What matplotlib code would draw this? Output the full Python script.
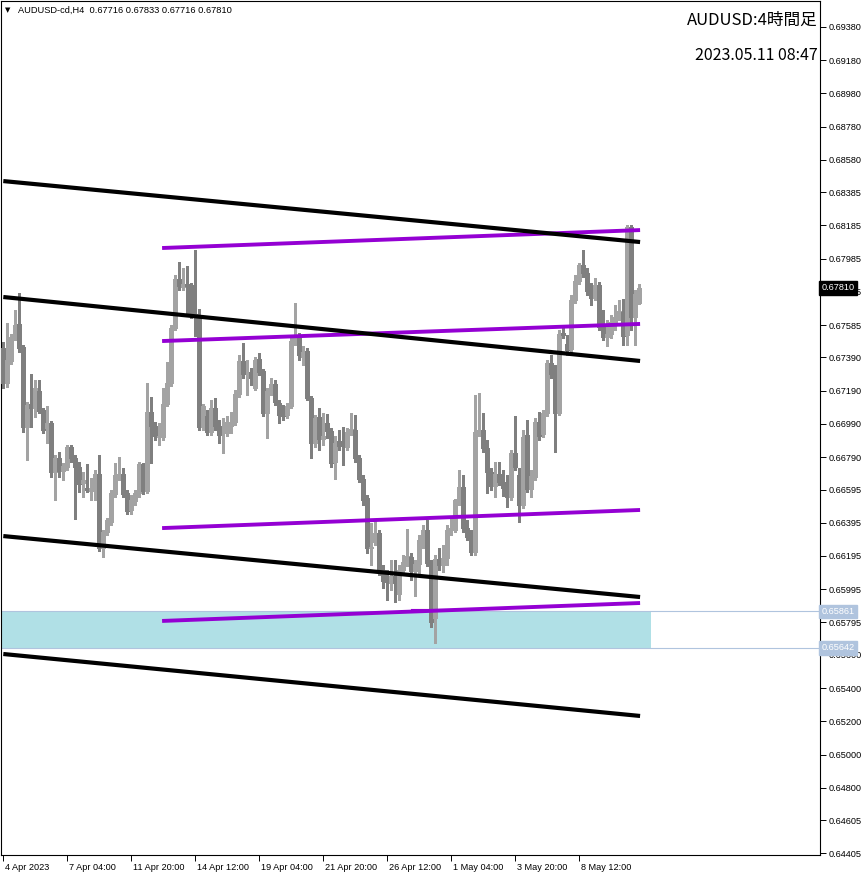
import matplotlib
matplotlib.use("Agg")
import matplotlib.pyplot as plt
from matplotlib.patches import Rectangle
import matplotlib.transforms as mtransforms

header_text = "AUDUSD-cd,H4  0.67716 0.67833 0.67716 0.67810"
title_main = "AUDUSD:4時間足"
title_time = "2023.05.11 08:47"

opens = [
    0.67447, 0.67236, 0.67369, 0.67507, 0.67592, 0.67453, 0.66971, 0.67110, 0.67086, 0.67188,
    0.67074, 0.66965, 0.66996, 0.66701, 0.66785, 0.66707, 0.66731, 0.66851, 0.66785, 0.66731,
    0.66634, 0.66604, 0.66586, 0.66604, 0.66689, 0.66243, 0.66339, 0.66400, 0.66568, 0.66670,
    0.66689, 0.66574, 0.66472, 0.66526, 0.66574, 0.66749, 0.66586, 0.67062, 0.66977, 0.66911,
    0.66911, 0.67110, 0.67236, 0.67567, 0.67862, 0.67814, 0.67832, 0.67826, 0.67652, 0.67640,
    0.66971, 0.67038, 0.66941, 0.67086, 0.66977, 0.66935, 0.66935, 0.66977, 0.67002, 0.67170,
    0.67369, 0.67303, 0.67303, 0.67206, 0.67381, 0.67309, 0.67056, 0.67182, 0.67230, 0.67116,
    0.67050, 0.67044, 0.67098, 0.67489, 0.67513, 0.67393, 0.67429, 0.67146, 0.66875, 0.67032,
    0.66899, 0.66996, 0.66947, 0.66761, 0.66887, 0.66857, 0.66851, 0.66941, 0.66953, 0.66785,
    0.66658, 0.66544, 0.66243, 0.66279, 0.66333, 0.66111, 0.66050, 0.66032, 0.66074, 0.65966,
    0.66111, 0.66159, 0.66189, 0.66105, 0.66147, 0.66279, 0.66351, 0.66153, 0.65822, 0.66177,
    0.66141, 0.66183, 0.66351, 0.66351, 0.66532, 0.66610, 0.66363, 0.66321, 0.66219, 0.66941,
    0.66953, 0.66845, 0.66701, 0.66616, 0.66689, 0.66640, 0.66604, 0.66550, 0.66815, 0.66683,
    0.66502, 0.66923, 0.66598, 0.66670, 0.67002, 0.66929, 0.67056, 0.67357, 0.67291, 0.67056,
    0.67537, 0.67471, 0.67441, 0.67736, 0.67850, 0.67947, 0.67899, 0.67820, 0.67748, 0.67826,
    0.67573, 0.67513, 0.67531, 0.67604, 0.67634, 0.67664, 0.67525, 0.68175, 0.67634, 0.67716,
]
highs = [
    0.67483, 0.67598, 0.67531, 0.67676, 0.67778, 0.67465, 0.67122, 0.67291, 0.67254, 0.67254,
    0.67086, 0.67098, 0.67008, 0.66803, 0.66821, 0.66755, 0.66863, 0.66863, 0.66803, 0.66761,
    0.66701, 0.66749, 0.66664, 0.66713, 0.66803, 0.66351, 0.66424, 0.66592, 0.66755, 0.66791,
    0.66725, 0.66592, 0.66562, 0.66592, 0.66761, 0.66755, 0.67236, 0.67152, 0.67002, 0.66996,
    0.67206, 0.67363, 0.67586, 0.67887, 0.67965, 0.67929, 0.67941, 0.67838, 0.68037, 0.67682,
    0.67110, 0.67074, 0.67134, 0.67146, 0.67014, 0.67026, 0.67038, 0.67062, 0.67194, 0.67405,
    0.67477, 0.67375, 0.67327, 0.67393, 0.67417, 0.67321, 0.67206, 0.67266, 0.67254, 0.67134,
    0.67104, 0.67116, 0.67519, 0.67718, 0.67537, 0.67459, 0.67447, 0.67158, 0.67044, 0.67086,
    0.67056, 0.67050, 0.66965, 0.66917, 0.66953, 0.66971, 0.66965, 0.67056, 0.67044, 0.66803,
    0.66683, 0.66562, 0.66394, 0.66412, 0.66351, 0.66141, 0.66111, 0.66171, 0.66171, 0.66141,
    0.66201, 0.66357, 0.66213, 0.66171, 0.66321, 0.66382, 0.66412, 0.66171, 0.66201, 0.66243,
    0.66261, 0.66382, 0.66436, 0.66502, 0.66713, 0.66683, 0.66412, 0.66351, 0.67164, 0.67176,
    0.67056, 0.66893, 0.66725, 0.66761, 0.66761, 0.66713, 0.66683, 0.66833, 0.67038, 0.66725,
    0.66953, 0.67014, 0.66713, 0.67026, 0.67062, 0.67074, 0.67375, 0.67405, 0.67345, 0.67555,
    0.67573, 0.67525, 0.67766, 0.67887, 0.67959, 0.68037, 0.67929, 0.67838, 0.67868, 0.67844,
    0.67676, 0.67616, 0.67646, 0.67706, 0.67736, 0.67742, 0.68188, 0.68188, 0.67796, 0.67833,
]
lows = [
    0.67206, 0.67212, 0.67351, 0.67495, 0.67423, 0.66941, 0.66773, 0.66971, 0.67032, 0.67056,
    0.66935, 0.66875, 0.66670, 0.66532, 0.66670, 0.66652, 0.66713, 0.66761, 0.66418, 0.66580,
    0.66550, 0.66580, 0.66532, 0.66532, 0.66225, 0.66189, 0.66321, 0.66382, 0.66550, 0.66652,
    0.66550, 0.66448, 0.66448, 0.66502, 0.66550, 0.66568, 0.66574, 0.66755, 0.66893, 0.66863,
    0.66893, 0.67098, 0.67218, 0.67555, 0.67796, 0.67796, 0.67658, 0.67628, 0.67519, 0.66953,
    0.66953, 0.66923, 0.66923, 0.66953, 0.66875, 0.66815, 0.66917, 0.66935, 0.66983, 0.67152,
    0.67266, 0.67164, 0.67224, 0.67194, 0.67285, 0.67038, 0.66905, 0.67164, 0.67104, 0.66996,
    0.67014, 0.67026, 0.67086, 0.67465, 0.67375, 0.67345, 0.67134, 0.66785, 0.66851, 0.66833,
    0.66863, 0.66905, 0.66731, 0.66658, 0.66833, 0.66743, 0.66833, 0.66923, 0.66761, 0.66640,
    0.66502, 0.66213, 0.66141, 0.66261, 0.66080, 0.66002, 0.65930, 0.65990, 0.65918, 0.65930,
    0.66080, 0.66135, 0.66050, 0.65954, 0.66080, 0.66243, 0.66135, 0.65767, 0.65671, 0.66111,
    0.66099, 0.66141, 0.66321, 0.66339, 0.66502, 0.66339, 0.66291, 0.66201, 0.66201, 0.66917,
    0.66821, 0.66574, 0.66592, 0.66550, 0.66622, 0.66556, 0.66490, 0.66532, 0.66713, 0.66400,
    0.66484, 0.66580, 0.66550, 0.66652, 0.66893, 0.66911, 0.67038, 0.67266, 0.66821, 0.67044,
    0.67507, 0.67405, 0.67423, 0.67718, 0.67832, 0.67874, 0.67766, 0.67706, 0.67736, 0.67555,
    0.67495, 0.67459, 0.67507, 0.67555, 0.67616, 0.67465, 0.67465, 0.67555, 0.67465, 0.67716,
]
closes = [
    0.67236, 0.67375, 0.67513, 0.67586, 0.67447, 0.66971, 0.67104, 0.67086, 0.67206, 0.67068,
    0.66953, 0.66996, 0.66701, 0.66785, 0.66707, 0.66737, 0.66851, 0.66785, 0.66731, 0.66628,
    0.66652, 0.66592, 0.66604, 0.66689, 0.66243, 0.66339, 0.66412, 0.66574, 0.66683, 0.66689,
    0.66568, 0.66466, 0.66532, 0.66574, 0.66749, 0.66586, 0.67062, 0.66977, 0.66917, 0.66917,
    0.67110, 0.67236, 0.67567, 0.67862, 0.67820, 0.67832, 0.67820, 0.67646, 0.67646, 0.66971,
    0.67098, 0.66941, 0.67086, 0.66977, 0.66923, 0.66937, 0.67002, 0.67002, 0.67170, 0.67369,
    0.67291, 0.67303, 0.67266, 0.67375, 0.67303, 0.67056, 0.67188, 0.67230, 0.67122, 0.67044,
    0.67038, 0.67098, 0.67489, 0.67513, 0.67405, 0.67423, 0.67146, 0.66875, 0.67026, 0.66899,
    0.66917, 0.66947, 0.66755, 0.66875, 0.66857, 0.66855, 0.66941, 0.66959, 0.66785, 0.66658,
    0.66532, 0.66243, 0.66249, 0.66333, 0.66111, 0.66044, 0.66038, 0.66074, 0.66032, 0.66111,
    0.66159, 0.66195, 0.66105, 0.66147, 0.66291, 0.66351, 0.66153, 0.65798, 0.66177, 0.66141,
    0.66183, 0.66351, 0.66363, 0.66532, 0.66610, 0.66363, 0.66309, 0.66219, 0.66941, 0.66953,
    0.66845, 0.66701, 0.66616, 0.66689, 0.66640, 0.66604, 0.66550, 0.66815, 0.66731, 0.66502,
    0.66911, 0.66598, 0.66676, 0.67002, 0.66917, 0.67056, 0.67357, 0.67291, 0.67056, 0.67531,
    0.67525, 0.67435, 0.67736, 0.67850, 0.67947, 0.67899, 0.67790, 0.67748, 0.67826, 0.67573,
    0.67513, 0.67531, 0.67604, 0.67634, 0.67670, 0.67519, 0.68175, 0.67634, 0.67772, 0.67810,
]

date_labels = ["4 Apr 2023", "7 Apr 04:00", "11 Apr 20:00", "14 Apr 12:00", "19 Apr 04:00",
               "21 Apr 20:00", "26 Apr 12:00", "1 May 04:00", "3 May 20:00", "8 May 12:00"]
date_label_bars = [0, 16, 32, 48, 64, 80, 96, 112, 128, 144]

price_ticks = [0.69380, 0.69180, 0.68980, 0.68780, 0.68580, 0.68385, 0.68185, 0.67985, 0.67785,
               0.67585, 0.67390, 0.67190, 0.66990, 0.66790, 0.66595, 0.66395, 0.66195, 0.65995,
               0.65795, 0.65600, 0.65400, 0.65200, 0.65000, 0.64800, 0.64605, 0.64405]
price_tick_labels = ["%.5f" % v for v in price_ticks]

# trend lines: (bar_start, price_start, bar_end, price_end)
black_lines = [
    (0, 0.68452, 159.2, 0.68085),
    (0, 0.67754, 159.2, 0.67369),
    (0, 0.66315, 159.2, 0.65948),
    (0, 0.65605, 159.2, 0.65232),
]
purple_lines = [
    (39.7, 0.68049, 159.2, 0.68157),
    (39.7, 0.67489, 159.2, 0.67592),
    (39.7, 0.66363, 159.2, 0.66472),
    (39.7, 0.65804, 159.2, 0.65912),
]
thin_purple = (102, 0.65876, 116, 0.65876)
zone_top = 0.65861
zone_bottom = 0.65642
zone_end_bar = 161.9
current_price = 0.67810

W, H = 866, 876
fig = plt.figure(figsize=(W / 100, H / 100), dpi=100)
fig.patch.set_facecolor("white")
ax = fig.add_axes([1 / W, 21 / H, 819 / W, 854 / H])
ax.set_facecolor("white")
ax.set_xlim(-0.575, 204.18)
ax.set_ylim(0.64395, 0.69536)

# zone
ax.add_patch(Rectangle((-2, zone_bottom), zone_end_bar + 2, zone_top - zone_bottom,
                       facecolor="#B0E0E6", edgecolor="none", zorder=1))
for lvl in (zone_top, zone_bottom):
    ax.axhline(lvl, color="#B0C4DE", lw=0.8, zorder=1.2)

bull_c = "#A3A3A3"
bear_c = "#7F7F7F"
for i in range(len(opens)):
    o, h, l, c = opens[i], highs[i], lows[i], closes[i]
    bull = c >= o
    col = bull_c if bull else bear_c
    ax.vlines(i, l, h, color=col, lw=0.75, zorder=2, antialiased=False)
    ax.add_patch(Rectangle((i - 0.3, min(o, c)), 0.6, abs(c - o),
                           facecolor="white" if bull else bear_c, edgecolor=col,
                           lw=0.75, zorder=3, antialiased=False))

for x0, y0, x1, y1 in purple_lines:
    ax.plot([x0, x1], [y0, y1], color="#9400D3", lw=2.8, solid_capstyle="butt", zorder=4)
for x0, y0, x1, y1 in black_lines:
    ax.plot([x0, x1], [y0, y1], color="black", lw=3.0, solid_capstyle="butt", zorder=5)
ax.plot([thin_purple[0], thin_purple[2]], [thin_purple[1], thin_purple[3]],
        color="#9400D3", lw=0.8, zorder=4)

for sp in ax.spines.values():
    sp.set_color("black")
    sp.set_linewidth(0.8)

lab_font = dict(family="Liberation Sans", size=6.6)
ax.yaxis.tick_right()
ax.set_yticks(price_ticks)
ax.set_yticklabels(price_tick_labels, **lab_font)
ax.tick_params(axis="y", direction="out", length=4, width=0.7, pad=2, colors="black")
ax.set_xticks(date_label_bars)
ax.set_xticklabels(date_labels, **lab_font)
ax.tick_params(axis="x", direction="out", length=4, width=0.7, pad=1.5, colors="black")
for lbl in ax.get_xticklabels():
    lbl.set_horizontalalignment("left")
    lbl.set_transform(lbl.get_transform() + mtransforms.ScaledTranslation(2 / 100, 0, fig.dpi_scale_trans))

trans = mtransforms.blended_transform_factory(ax.transAxes, ax.transData)
ax.text(1.0015, current_price, "%.5f" % current_price, transform=trans, color="white",
        va="center", ha="left", fontsize=6.6, family="Liberation Sans", zorder=10,
        bbox=dict(boxstyle="square,pad=0.25", facecolor="black", edgecolor="black"), clip_on=False)
for lvl in (zone_top, zone_bottom):
    ax.text(1.0015, lvl, "%.5f" % lvl, transform=trans, color="white",
            va="center", ha="left", fontsize=6.6, family="Liberation Sans", zorder=10,
            bbox=dict(boxstyle="square,pad=0.25", facecolor="#B0C4DE", edgecolor="#B0C4DE"), clip_on=False)

# header
fig.text(5 / W, 1 - 10 / H, "▼", fontsize=5, family="DejaVu Sans", va="center", ha="left")
fig.text(18 / W, 1 - 10 / H, header_text, fontsize=6.7, family="Liberation Sans", va="center", ha="left")
fig.text(818 / W, 1 - 20 / H, title_main, fontsize=12, family=["Noto Sans CJK JP", "DejaVu Sans"],
         va="center", ha="right")
fig.text(818 / W, 1 - 55 / H, title_time, fontsize=11.5, family=["Noto Sans CJK JP", "DejaVu Sans"],
         va="center", ha="right")

fig.savefig("out.png", dpi=100, facecolor="white")
